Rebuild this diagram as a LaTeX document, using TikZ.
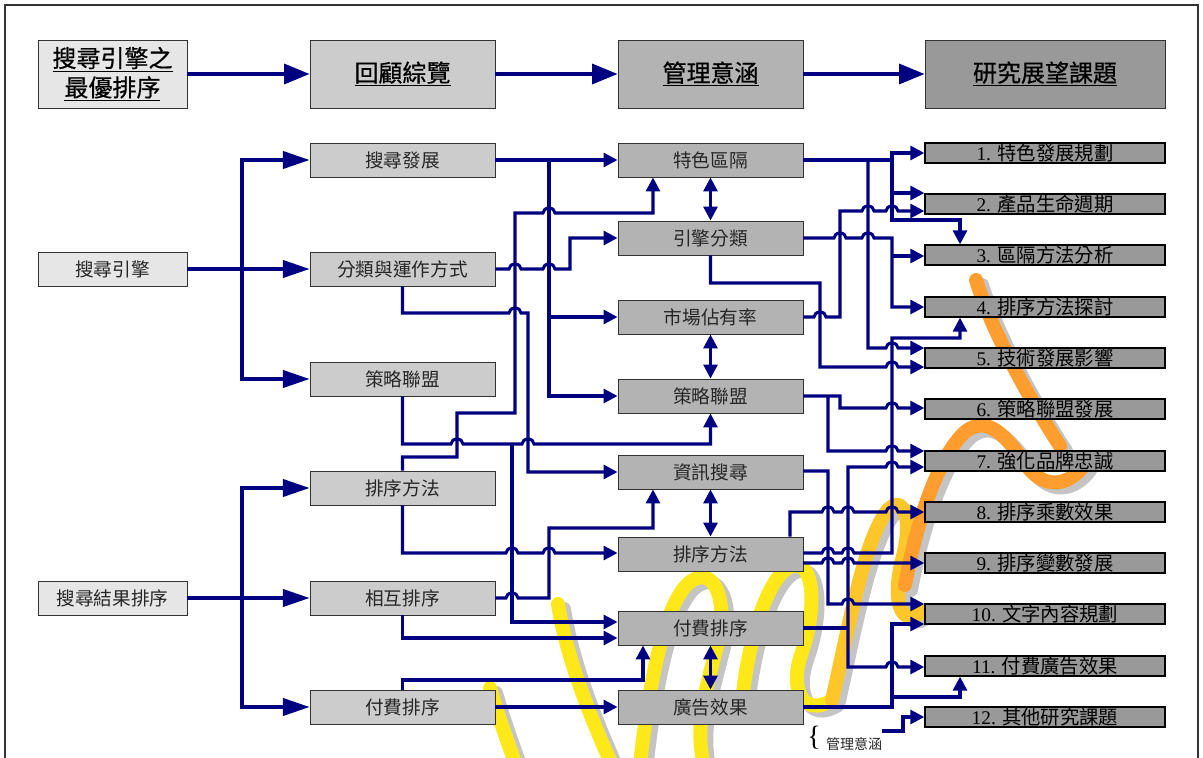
\documentclass[tikz,border=0pt]{standalone}
\usepackage{fontspec}
\setmainfont{Liberation Serif}
\newfontfamily\cjk{Noto Sans CJK TC}
\newfontfamily\cjkb[FakeBold=0.6]{Noto Sans CJK TC}
\usetikzlibrary{arrows.meta}
\definecolor{navy}{HTML}{000080}
\definecolor{fA}{HTML}{E6E6E6}
\definecolor{fB}{HTML}{CCCCCC}
\definecolor{fC}{HTML}{B3B3B3}
\definecolor{fD}{HTML}{999999}
\definecolor{wmY}{HTML}{FFE81A}
\definecolor{wmM}{HTML}{FFC629}
\definecolor{wmO}{HTML}{FF9E2E}
\definecolor{wmS}{HTML}{C4C4C4}
\newcommand{\hp}[2]{-- ({#1-6},#2) arc[start angle=180,end angle=360,x radius=6,y radius=5]}
\newcommand{\wmstroke}[2]{%
  \draw[wmark, wmS, shift={(6,5)}] #2;
  \draw[wmark, #1] #2;}
\tikzset{
  base/.style={draw=black!80, line width=0.7pt, inner sep=0pt},
  topbox/.style={base, minimum height=51pt, align=center, text=black,
    font=\cjkb\fontsize{18}{24}\selectfont},
  c1box/.style={base, fill=fA, minimum width=111.75pt, minimum height=25.5pt,
    text=black!85, font=\cjk\fontsize{14}{16}\selectfont},
  c2box/.style={base, fill=fB, minimum width=138.75pt, minimum height=25.5pt,
    text=black!85, font=\cjk\fontsize{14}{16}\selectfont},
  c3box/.style={base, fill=fC, minimum width=138.75pt, minimum height=25.5pt,
    text=black!85, font=\cjk\fontsize{14}{16}\selectfont},
  c4box/.style={base, fill=fD, line width=1pt, draw=black, minimum width=180pt, minimum height=15pt,
    text=black, font=\fontsize{14.5}{15}\selectfont},
  ln/.style={navy, line width=2.3pt},
  arr/.style={ln, -{Triangle[length=10.5pt,width=10.5pt]}},
  arrL/.style={ln, -{Triangle[length=20pt,width=13pt]}},
  arrT/.style={ln, -{Triangle[length=19pt,width=15pt]}},
  dbl/.style={ln, {Triangle[length=10.5pt,width=10.5pt]}-{Triangle[length=10.5pt,width=10.5pt]}},
  wmark/.style={line width=10.5pt, line cap=round, line join=round},
}
\begin{document}
\begin{tikzpicture}[x=0.75pt,y=-0.75pt]
\useasboundingbox (0,0) rectangle (1203,757);

% watermark (background)
\begin{scope}
\clip (0,0) rectangle (1203,757);
\wmstroke{wmY}{(490,688) .. controls (497,712) and (506,738) .. (516,765)}
\wmstroke{wmY}{(558,604) .. controls (566,655) and (588,712) .. (612,765)}
\wmstroke{wmY}{(640,765) .. controls (648,690) and (664,602) .. (690,582) .. controls (714,564) and (728,600) .. (718,642) .. controls (706,690) and (694,725) .. (704,765)}
\wmstroke{wmY}{(742,702) .. controls (748,640) and (768,574) .. (792,566) .. controls (816,560) and (816,612) .. (802,652) .. controls (788,690) and (804,718) .. (832,700)}
\wmstroke{wmM}{(832,700) .. controls (846,640) and (860,560) .. (880,522) .. controls (898,486) and (916,510) .. (902,560) .. controls (892,600) and (900,628) .. (922,612)}
\wmstroke{wmO}{(905,585) .. controls (918,515) and (940,455) .. (965,432) .. controls (990,412) and (1010,442) .. (1030,470) .. controls (1050,492) and (1074,482) .. (1086,462)}
\wmstroke{wmO}{(976,280) .. controls (992,332) and (1030,400) .. (1060,446)}
\end{scope}

\draw[line width=1.3pt, black!80] (5,770) -- (5,5) -- (1198,5) -- (1198,770);

% top row
\node[topbox, fill=fA, minimum width=111.75pt] (t1) at (112.5,74) {\underline{搜尋引擎之}\\[-2pt]\underline{最優排序}};
\node[topbox, fill=fB, minimum width=138.75pt] (t2) at (402.5,74) {\underline{回顧綜覽}};
\node[topbox, fill=fC, minimum width=138.75pt] (t3) at (710.5,74) {\underline{管理意涵}};
\node[topbox, fill=fD, minimum width=180pt] (t4) at (1045,74) {\underline{研究展望課題}};
\draw[arrT] (t1) -- (t2);
\draw[arrT] (t2) -- (t3);
\draw[arrT] (t3) -- (t4);

% column 1
\node[c1box] (se) at (112.5,269) {搜尋引擎};
\node[c1box] (sr) at (112.5,598) {搜尋結果排序};

% column 2
\node[c2box] (a1) at (402.5,160) {搜尋發展};
\node[c2box] (a2) at (402.5,269) {分類與運作方式};
\node[c2box] (a3) at (402.5,379) {策略聯盟};
\node[c2box] (a4) at (402.5,488) {排序方法};
\node[c2box] (a5) at (402.5,598) {相互排序};
\node[c2box] (a6) at (402.5,707) {付費排序};

% column 3
\node[c3box] (b1) at (710.5,160) {特色區隔};
\node[c3box] (b2) at (710.5,238) {引擎分類};
\node[c3box] (b3) at (710.5,317) {市場佔有率};
\node[c3box] (b4) at (710.5,396) {策略聯盟};
\node[c3box] (b5) at (710.5,472) {資訊搜尋};
\node[c3box] (b6) at (710.5,554) {排序方法};
\node[c3box] (b7) at (710.5,628) {付費排序};
\node[c3box] (b8) at (710.5,707) {廣告效果};

% column 4
\node[c4box] (r1) at (1045,153) {1. {\cjk 特色發展規劃}};
\node[c4box] (r2) at (1045,204) {2. {\cjk 產品生命週期}};
\node[c4box] (r3) at (1045,255) {3. {\cjk 區隔方法分析}};
\node[c4box] (r4) at (1045,307) {4. {\cjk 排序方法探討}};
\node[c4box] (r5) at (1045,358) {5. {\cjk 技術發展影響}};
\node[c4box] (r6) at (1045,409) {6. {\cjk 策略聯盟發展}};
\node[c4box] (r7) at (1045,461) {7. {\cjk 強化品牌忠誠}};
\node[c4box] (r8) at (1045,512) {8. {\cjk 排序乘數效果}};
\node[c4box] (r9) at (1045,563) {9. {\cjk 排序變數發展}};
\node[c4box] (r10) at (1045,614) {10. {\cjk 文字內容規劃}};
\node[c4box] (r11) at (1045,666) {11. {\cjk 付費廣告效果}};
\node[c4box] (r12) at (1045,717) {12. {\cjk 其他研究課題}};

% note
\node[inner sep=0pt, font=\fontsize{21}{21}\selectfont] (brc) at (814,738) {\{};
\node[inner sep=0pt, font=\cjk\fontsize{10.5}{12}\selectfont, text=black!85] (mg) at (854,744) {管理意涵};

% junctions
\coordinate (j1) at (242,269);
\coordinate (j2) at (242,598);
\coordinate (j3) at (549,160);
\coordinate (j5) at (512,444);
\coordinate (k1) at (892,160);
\coordinate (k2) at (868,160);
\coordinate (k3) at (892,238);
\coordinate (k4) at (828,396);
\coordinate (k5) at (848,628);
\coordinate (k6) at (892,707);

% column 1 -> column 2
\draw[arrL] (se.east) -- (a2.west);
\draw[arrL] (j1) |- (a1.west);
\draw[arrL] (j1) |- (a3.west);
\draw[arrL] (sr.east) -- (a5.west);
\draw[arrL] (j2) |- (a4.west);
\draw[arrL] (j2) |- (a6.west);

% column 2 -> column 3
\draw[arr] (a1.east) -- (b1.west);
\draw[arr] (j3) |- (b4.west);
\draw[arr] (j3) |- (b3.west);
\draw[arr] (a2.east) \hp{515}{269} \hp{549}{269} -- (570,269) |- (b2.west);
\draw[arr] (a2.south) -- (402.5,313) \hp{515}{313} -- (528,313) |- (b5.west);
\draw[arr] (a4.north) -- (402.5,457) -- (457,457) -- (457,413) -- (515,413) -- (515,213) \hp{549}{213} -- (653,213) -- (b1.south -| 653,0);
\draw[arr] (a3.south) -- (402.5,444) \hp{457}{444} \hp{528}{444} -- (710.5,444) -- (b4.south);
\draw[arr] (j5) |- (b7.west |- 0,622);
\draw[arr] (a4.south) -- (402.5,553) \hp{512}{553} \hp{549}{553} -- (b6.west |- 0,553);
\draw[arr] (a5.east) \hp{512}{598} -- (549,598) -- (549,528) -- (653,528) -- (b5.south -| 653,0);
\draw[arr] (a5.south) |- (b7.west |- 0,638);
\draw[arr] (a6.north) -- (402.5,680) -| (b7.south -| 643,0);
\draw[arr] (a6.east) -- (b8.west);

% column 3 links
\draw[dbl] (b1.south) -- (b2.north);
\draw[dbl] (b3.south) -- (b4.north);
\draw[dbl] (b5.south) -- (b6.north);
\draw[dbl] (b7.south) -- (b8.north);

% column 3 -> column 4
\draw[arr] (b1.east) -- (k1) |- (r1.west |- 0,153);
\draw[arr] (892,153) -- (892,220) -| (r3.north -| 960,0);
\draw[arr] (892,193) -- (r2.west |- 0,193);
\draw[arr] (k2) -- (868,348) \hp{892}{348} -- (r5.west |- 0,348);
\draw[arr] (b2.east) \hp{840}{238} \hp{868}{238} -- (k3) |- (r4.west |- 0,307);
\draw[arr] (892,256) -- (r3.west |- 0,256);
\draw[arr] (b3.east) \hp{820}{317} -- (840,317) -- (840,211) \hp{868}{211} \hp{892}{211} -- (r2.west |- 0,211);
\draw[arr] (b2.south) -- (710.5,283) -- (820,283) -- (820,367) \hp{892}{367} -- (r5.west |- 0,367);
\draw[arr] (b6.east |- 0,553) \hp{828}{553} \hp{848}{553} -- (892,553) -- (892,338) -| (r4.south -| 960,0);
\draw[arr] (b4.east) -- (840,396) -- (840,408) \hp{892}{408} -- (r6.west |- 0,408);
\draw[arr] (k4) -- (828,451) \hp{892}{451} -- (r7.west |- 0,451);
\draw[arr] (b5.east |- 0,471) -- (828,471) -- (828,604) \hp{848}{604} -- (r10.west |- 0,604);
\draw[ln] (b7.east) -- (k5);
\draw[arr] (k5) -- (848,467) \hp{892}{467} -- (r7.west |- 0,467);
\draw[arr] (k5) -- (848,667) \hp{892}{667} -- (r11.west |- 0,667);
\draw[arr] (b6.north -| 790,0) -- (790,512) \hp{828}{512} \hp{848}{512} \hp{892}{512} -- (r8.west |- 0,512);
\draw[arr] (b6.east |- 0,563) \hp{828}{563} \hp{848}{563} -- (r9.west |- 0,563);
\draw[arr] (b8.east) -- (k6) |- (r10.west |- 0,624);
\draw[arr] (892,697) -| (r11.south -| 960,0);
\draw[arr] (mg.east |- 0,731) -- (903,731) |- (r12.west |- 0,717);
\end{tikzpicture}
\end{document}
